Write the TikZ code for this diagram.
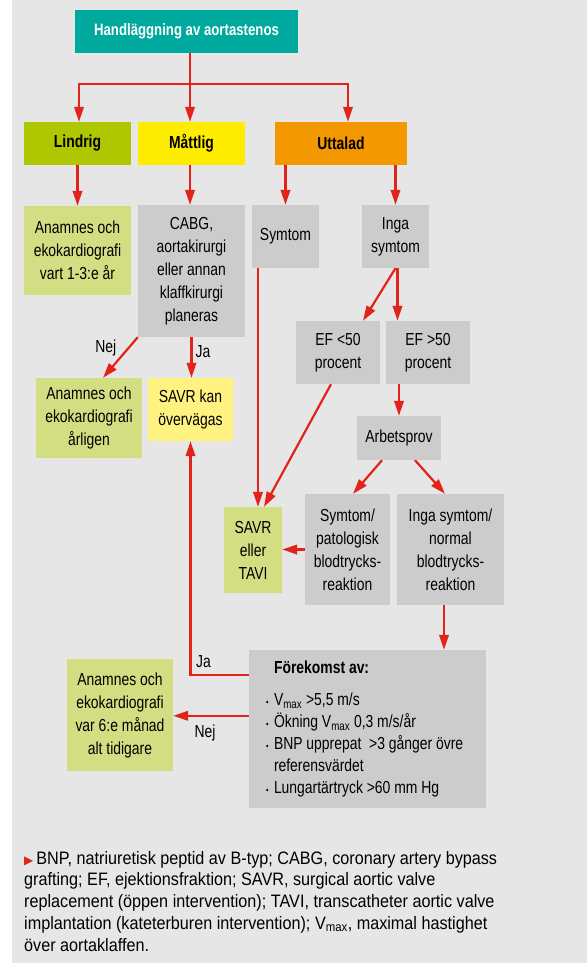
\documentclass[tikz,border=0pt]{standalone}
\usepackage{fontspec}
\setmainfont{Liberation Sans}[FakeStretch=0.8]
\newfontfamily\notefamily{Liberation Sans}[FakeStretch=0.9]
\newfontfamily\symfont{DejaVu Sans}
\usepackage{xcolor}
\usetikzlibrary{arrows.meta,positioning,calc}

\definecolor{panelgray}{RGB}{230,230,230}
\definecolor{headteal}{RGB}{0,169,157}
\definecolor{mildgreen}{RGB}{174,199,0}
\definecolor{midyellow}{RGB}{255,237,0}
\definecolor{severeorange}{RGB}{243,152,0}
\definecolor{palegreen}{RGB}{211,222,131}
\definecolor{paleyellow}{RGB}{255,242,128}
\definecolor{boxgray}{RGB}{204,204,204}
\definecolor{arrowred}{RGB}{226,35,26}

\newcommand{\boxfont}{\fontsize{17.4}{23}\selectfont}
\newcommand{\notefont}{\notefamily\fontsize{18}{21.7}\selectfont}

\begin{document}
\begin{tikzpicture}[x=1pt, y=-1pt, >={Triangle[length=15pt,width=9.5pt]},
    box/.style={rectangle, align=center, inner sep=2pt, text=black, font=\boxfont},
    gradebox/.style={box, font=\boxfont\bfseries, minimum width=107pt, minimum height=43pt},
    greybox/.style={box, fill=boxgray},
    greenbox/.style={box, fill=palegreen},
    flow/.style={->, draw=arrowred, line width=2.2pt},
    lbl/.style={font=\boxfont, inner sep=0pt}]
    \useasboundingbox (0,0) rectangle (587,964);
    \fill[panelgray] (12,0) rectangle (587,963);

    \node[box, fill=headteal, text=white, font=\fontsize{16.5}{20}\selectfont\bfseries, minimum width=223pt, minimum height=43pt] (head) at (186.5,31.5) {Handläggning av aortastenos};
    \node[gradebox, fill=mildgreen] (lindrig) at (77.5,143.5) {Lindrig};
    \node[gradebox, fill=midyellow] (mattlig) at (191.5,143.5) {Måttlig};
    \node[gradebox, fill=severeorange, minimum width=132pt] (uttalad) at (341,143.5) {Uttalad};

    \node[greenbox, minimum width=107pt, minimum height=89pt] (anamA) at (77.5,250.5) {Anamnes och\\ekokardiografi\\vart 1-3:e år};
    \node[greybox, minimum width=107pt, minimum height=132pt] (cabg) at (191.5,271) {CABG,\\aortakirurgi\\eller annan\\klaffkirurgi\\planeras};
    \node[greybox, minimum width=67pt, minimum height=63pt] (symtom) at (285.5,236.5) {Symtom};
    \node[greybox, minimum width=67pt, minimum height=63pt] (inga) at (395.5,236.5) {Inga\\symtom};
    \node[greybox, minimum width=84pt, minimum height=63pt] (eflow) at (338,352.5) {EF <50\\procent};
    \node[greybox, minimum width=84pt, minimum height=63pt] (efhigh) at (428,352.5) {EF >50\\procent};
    \node[greybox, minimum width=84pt, minimum height=44pt] (arbete) at (399,438) {Arbetsprov};
    \node[greenbox, minimum width=106pt, minimum height=80pt] (anamB) at (89,418) {Anamnes och\\ekokardiografi\\årligen};
    \node[box, fill=paleyellow, minimum width=85pt, minimum height=63pt] (savrkan) at (190.5,409.5) {SAVR kan\\övervägas};
    \node[greenbox, minimum width=58pt, minimum height=86pt] (savrtavi) at (253,550) {SAVR\\eller\\TAVI};
    \node[greybox, minimum width=85pt, minimum height=111pt] (sympat) at (347.5,549.5) {Symtom/\\patologisk\\blodtrycks-\\reaktion};
    \node[greybox, minimum width=107pt, minimum height=111pt] (normal) at (450.5,549.5) {Inga symtom/\\normal\\blodtrycks-\\reaktion};
    \node[greybox, align=flush left, text width=203pt, inner xsep=17pt, minimum height=158pt, font=\fontsize{17.4}{22}\selectfont] (forek) at (367.5,729)
      {\hspace*{8pt}\textbf{Förekomst av:}\\[10pt]
       \makebox[8pt][l]{\fontsize{9}{9}\selectfont•}V\textsubscript{max} >5,5 m/s\\
       \makebox[8pt][l]{\fontsize{9}{9}\selectfont•}Ökning V\textsubscript{max} 0,3 m/s/år\\
       \makebox[8pt][l]{\fontsize{9}{9}\selectfont•}BNP upprepat~ >3 gånger övre\\
       \hspace*{8pt}referensvärdet\\
       \makebox[8pt][l]{\fontsize{9}{9}\selectfont•}Lungartärtryck >60 mm Hg};
    \node[greenbox, minimum width=106pt, minimum height=112pt] (anamC) at (120,715) {Anamnes och\\ekokardiografi\\var 6:e månad\\alt tidigare};

    \node[anchor=north west, align=left, inner sep=0pt, font=\notefont] (note) at (24,851)
      {{\symfont\fontsize{12}{12}\selectfont\color{arrowred}▶}\,BNP, natriuretisk peptid av B-typ; CABG, coronary artery bypass\\
       grafting; EF, ejektionsfraktion; SAVR, surgical aortic valve\\
       replacement (öppen intervention); TAVI, transcatheter aortic valve\\
       implantation (kateterburen intervention); V\textsubscript{max}, maximal hastighet\\
       över aortaklaffen.};

    \coordinate (split) at (190,84);
    \draw[flow, -] (head.south -| split) -- (split);
    \draw[flow] (split) -- (mattlig.north -| split);
    \draw[flow] (split) -| ([xshift=1.5pt]lindrig.north);
    \draw[flow] (split) -| ([xshift=7pt]uttalad.north);

    \draw[flow] (lindrig) -- (anamA);
    \draw[flow] (mattlig.south -| split) -- (cabg.north -| split);
    \draw[flow] (uttalad.south -| symtom) -- (symtom);
    \draw[flow] (uttalad.south -| inga) -- (inga);
    \draw[flow] (inga.south) -- ([xshift=25pt]eflow.north);
    \draw[flow] ([xshift=2pt]inga.south) -- ([xshift=2pt]inga.south |- efhigh.north);
    \draw[flow] (efhigh.south -| arbete) -- (arbete);
    \draw[flow] ([xshift=-7pt]eflow.south) -- ([xshift=11pt]savrtavi.north);
    \draw[flow] ([xshift=-27.5pt]symtom.south) -- ([xshift=-27.5pt]symtom.south |- savrtavi.north);
    \draw[flow] ([xshift=-17pt]arbete.south) -- ([xshift=5.5pt]sympat.north);
    \draw[flow] ([xshift=16pt]arbete.south) -- ([xshift=-5.5pt]normal.north);
    \draw[flow] (sympat.west) -- (sympat.west -| savrtavi.east);
    \draw[flow] ([xshift=-6.5pt]normal.south) -- ([xshift=-6.5pt]normal.south |- forek.north);

    \draw[flow] (cabg.south west) -- ([xshift=14pt]anamB.north) node[lbl, pos=0.27, left=11pt] {Nej};
    \draw[flow] (cabg.south) -- (cabg.south |- savrkan.north) node[lbl, pos=0.35, right=3pt] {Ja};
    \draw[flow] ([yshift=-25pt]forek.north west) -| (savrkan.south) node[lbl, pos=0.5, above right=6pt and 4.5pt] {Ja};
    \draw[flow] ([yshift=-66pt]forek.north west) -- ([yshift=-66pt]forek.north west -| anamC.east) node[lbl, pos=0.58, below=8pt] {Nej};
\end{tikzpicture}
\end{document}
